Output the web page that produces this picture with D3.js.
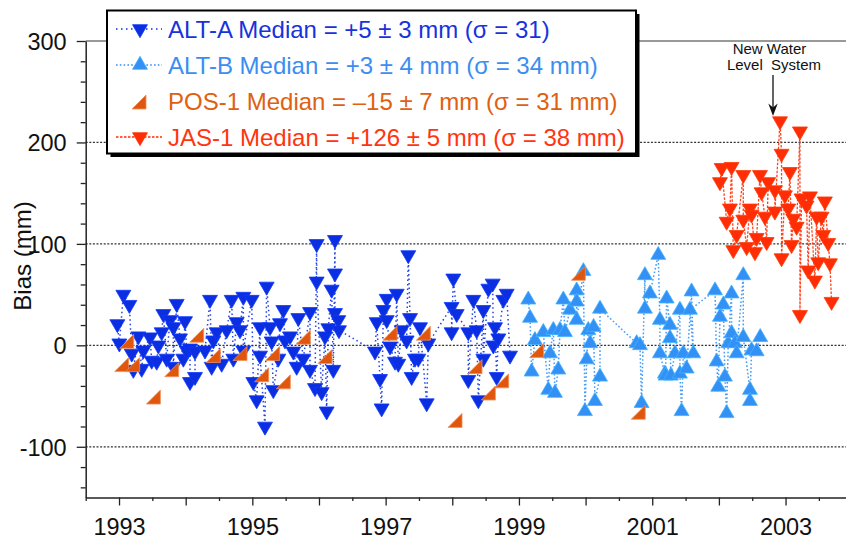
<!DOCTYPE html>
<html><head><meta charset="utf-8">
<script src="https://cdn.jsdelivr.net/npm/d3@7"></script>
<style>
html,body{margin:0;padding:0;background:#fff;}
svg{display:block;font-family:"Liberation Sans",Arial,Helvetica,sans-serif;}
</style></head>
<body><svg id="chart" width="846" height="540"></svg>
<script>
// ---- data: [decimal year, bias mm] ----
const altA = [
[1992.975,21],[1993.005,2],[1993.065,50],[1993.155,40],[1993.19,-8],[1993.215,-24],[1993.29,9],[1993.34,-23],
[1993.365,-5],[1993.465,8],[1993.49,-15],[1993.565,-16],[1993.59,0],[1993.64,13],[1993.665,31],[1993.715,-13],
[1993.765,25],[1993.815,18],[1993.815,-21],[1993.865,41],[1993.915,7],[1993.965,-13],[1993.99,24],[1994.015,-5],
[1994.065,-3],[1994.065,-36],[1994.14,-31],[1994.14,-6],[1994.29,-5],[1994.365,45],[1994.39,-21],[1994.415,5],
[1994.465,13],[1994.54,-18],[1994.615,15],[1994.69,45],[1994.715,-13],[1994.765,23],[1994.815,15],[1994.865,48],
[1994.865,-5],[1994.99,45],[1995.015,-36],[1995.065,-54],[1995.115,18],[1995.115,-10],[1995.19,-80],[1995.215,58],
[1995.265,18],[1995.29,4],[1995.315,-44],[1995.39,-13],[1995.415,22],[1995.465,35],[1995.49,5],[1995.565,9],
[1995.615,-6],[1995.665,-21],[1995.69,27],[1995.765,-13],[1995.865,33],[1995.865,-24],[1995.94,-42],[1995.965,100],
[1995.965,63],[1996.04,-46],[1996.09,9],[1996.115,-65],[1996.14,17],[1996.19,55],[1996.215,-24],[1996.24,104],
[1996.24,71],[1996.24,32],[1996.29,25],[1996.3,15],
[1996.84,-6],[1996.866,23],[1996.916,-33],[1996.94,-62],[1996.966,35],[1997.016,46],[1997.016,25],[1997.066,-1],
[1997.14,-16],[1997.166,51],[1997.19,-18],[1997.24,15],[1997.315,5],[1997.34,89],[1997.366,27],[1997.39,-31],
[1997.44,-13],[1997.49,-13],[1997.516,18],[1997.616,-57],[1997.64,2],
[1997.99,38],[1997.99,13],[1998.016,66],[1998.066,31],[1998.24,13],[1998.24,-34],[1998.316,45],[1998.366,15],
[1998.391,-54],[1998.466,35],[1998.466,-13],[1998.541,56],[1998.606,61],[1998.616,0],[1998.641,18],[1998.666,-31],
[1998.691,7],[1998.766,45],[1998.816,51],[1998.866,-10]
];
const altB = [
[1999.14,45],[1999.166,27],[1999.19,-26],[1999.24,5],[1999.366,13],[1999.44,-44],[1999.466,-8],[1999.516,15],
[1999.54,-47],[1999.59,-24],[1999.616,15],[1999.666,45],[1999.69,13],[1999.766,35],[1999.866,54],[1999.866,43],
[1999.866,25],[1999.967,73],[1999.99,-65],[2000.017,-14],[2000.04,15],[2000.07,2],[2000.12,18],[2000.14,-55],
[2000.216,-31],[2000.216,36],
[2000.766,2],[2000.816,0],[2000.84,-57],[2000.89,69],[2000.89,36],[2000.966,51],[2001.09,89],[2001.115,25],
[2001.115,-8],[2001.19,-28],[2001.2,-30],[2001.216,46],[2001.266,20],[2001.266,7],[2001.28,-30],[2001.34,-8],
[2001.415,35],[2001.415,-28],[2001.44,-65],[2001.466,-8],[2001.516,-23],[2001.59,53],[2001.616,-8],[2001.566,35],
[2001.942,54],[2001.966,-16],[2001.99,-41],[2002.016,28],[2002.066,40],[2002.09,-31],[2002.116,-67],[2002.14,2],
[2002.19,51],[2002.19,12],[2002.24,2],[2002.266,-8],[2002.366,69],[2002.366,8],[2002.466,-44],[2002.466,-55],
[2002.49,-5],[2002.566,-6],[2002.62,8]
];
const pos1 = [
[1993.04,-19],[1993.115,4],[1993.205,-19],[1993.515,-51],[1993.79,-24],[1994.165,10],[1994.415,-10],[1994.815,-8],
[1995.14,-29],[1995.305,-8],[1995.465,-36],[1995.765,8],[1996.09,-11],[1997.066,12],[1997.566,12],[1998.041,-74],
[1998.341,-21],[1998.541,-47],[1998.741,-35],[1999.266,-5],[1999.891,71],[2000.79,-66]
];
const jas1 = [
[2002.016,161],[2002.042,175],[2002.116,122],[2002.166,135],[2002.19,176],[2002.216,94],[2002.266,109],[2002.366,168],
[2002.366,124],[2002.416,97],[2002.466,135],[2002.49,129],[2002.541,92],[2002.566,106],[2002.616,168],[2002.64,151],
[2002.69,127],[2002.716,102],[2002.74,161],[2002.84,153],[2002.84,132],[2002.917,221],[2002.94,189],[2002.94,86],
[2002.99,148],[2003.04,135],[2003.066,171],[2003.09,99],[2003.116,125],[2003.166,117],[2003.216,211],[2003.216,30],
[2003.24,145],[2003.315,138],[2003.34,74],[2003.366,147],[2003.44,64],[2003.466,127],[2003.49,82],[2003.54,127],
[2003.566,109],[2003.59,142],[2003.64,101],[2003.666,81],[2003.69,43]
];
const legendLabels = [
 "ALT-A Median = +5 ± 3 mm (σ = 31)",
 "ALT-B Median = +3 ± 4 mm (σ = 34 mm)",
 "POS-1 Median = –15 ± 7 mm (σ = 31 mm)",
 "JAS-1 Median = +126 ± 5 mm (σ = 38 mm)"
];
const yMajorTicks = [-100, 0, 100, 200, 300];
const xLabelYears = [1993, 1995, 1997, 1999, 2001, 2003];
const annotationLines = ["New Water", "Level  System"];

// ---- drawing ----
const svg = d3.select("#chart");
const x = d3.scaleLinear().domain([1992.5, 2004]).range([85.7, 852.2]);
const y = d3.scaleLinear().domain([-150, 300]).range([497.5, 41]);
const X0 = 85.7, XR = 846;

// gridlines
svg.append("g").selectAll("line").data(yMajorTicks.filter(d => d !== 300)).join("line")
  .attr("x1", X0).attr("x2", XR).attr("y1", d => y(d)).attr("y2", d => y(d))
  .attr("stroke", "#333").attr("stroke-width", 1.3).attr("stroke-dasharray", "2,1.6");
svg.append("line").attr("x1", X0).attr("x2", XR).attr("y1", y(300)).attr("y2", y(300))
  .attr("stroke", "#777").attr("stroke-width", 1.6);

// axes
const fontSize = 23.5;
const yMinor = d3.range(-140, 300, 20).filter(d => d % 100 !== 0);
svg.append("g").attr("transform", `translate(${X0},0)`)
  .call(d3.axisLeft(y).tickValues(yMinor).tickSize(5).tickFormat("").tickSizeOuter(0))
  .call(g => g.select(".domain").remove())
  .call(g => g.selectAll("line").attr("stroke", "#222").attr("stroke-width", 1.3));
svg.append("g").attr("transform", `translate(${X0},0)`)
  .call(d3.axisLeft(y).tickValues(yMajorTicks).tickSize(9).tickPadding(10).tickSizeOuter(0).tickFormat(d => String(d)))
  .call(g => g.select(".domain").attr("stroke", "#222").attr("stroke-width", 1.5))
  .call(g => g.selectAll("line").attr("stroke", "#222").attr("stroke-width", 1.3))
  .call(g => g.selectAll("text").attr("font-size", fontSize).attr("fill", "#111")
      .attr("font-family", '"Liberation Sans",Arial,sans-serif').attr("dy", "0.36em"));

const xMinor = d3.range(1992.5, 2004.01, 1);
svg.append("g").attr("transform", `translate(0,${y(-150)})`)
  .call(d3.axisBottom(x).tickValues(xMinor).tickSize(3.5).tickFormat("").tickSizeOuter(0))
  .call(g => g.select(".domain").remove())
  .call(g => g.selectAll("line").attr("stroke", "#222").attr("stroke-width", 1.3));
svg.append("g").attr("transform", `translate(0,${y(-150)})`)
  .call(d3.axisBottom(x).tickValues(d3.range(1993, 2004.5, 1)).tickSize(8).tickSizeOuter(0)
     .tickFormat(d => xLabelYears.includes(d) ? String(d) : ""))
  .call(g => g.select(".domain").attr("stroke", "#222").attr("stroke-width", 1.5))
  .call(g => g.selectAll("line").attr("stroke", "#222").attr("stroke-width", 1.3))
  .call(g => g.selectAll("text").attr("font-size", fontSize).attr("fill", "#111")
      .attr("font-family", '"Liberation Sans",Arial,sans-serif').attr("y", 37).attr("dy", 0));

// y label
svg.append("text").attr("transform", "translate(31,256) rotate(-90)")
  .attr("text-anchor", "middle").attr("font-size", 24).attr("fill", "#111").text("Bias (mm)");

// series
const series = [
  {key:"ALT-A", data: altA, color:"#0b2ee0", text:"#1733db", shape:"down", dash:"1.5,3", lw:1.5},
  {key:"ALT-B", data: altB, color:"#3390f5", text:"#3a8ef2", shape:"up", dash:"1.6,2.2", lw:1.5},
  {key:"POS-1", data: pos1, color:"#e0560d", text:"#e0600f", shape:"right", dash:null, lw:0},
  {key:"JAS-1", data: jas1, color:"#ff2d05", text:"#ff3510", shape:"down", dash:"2.5,1.5", lw:1.3}
];
const triPath = d3.symbol(d3.symbolTriangle, 97)();
function shapeAttrs(sel, shape){
  if (shape === "right") sel.attr("d", "M-7,7L7,7L7,-7Z");
  else sel.attr("d", triPath);
}
const line = d3.line().x(d => x(d[0])).y(d => y(d[1]));
series.forEach(s => {
  const g = svg.append("g");
  if (s.dash) g.append("path").datum(s.data).attr("d", line).attr("fill", "none")
      .attr("stroke", s.color).attr("stroke-width", s.lw).attr("stroke-dasharray", s.dash).attr("opacity", 0.9);
  g.selectAll("path.m").data(s.data).join("path").attr("class", "m")
    .call(shapeAttrs, s.shape)
    .attr("transform", d => `translate(${x(d[0])},${y(d[1])})` + (s.shape === "down" ? " rotate(180)" : ""))
    .attr("fill", s.color)
    .attr("stroke", s.shape === "right" ? "#f0915a" : d3.color(s.color).brighter(0.6))
    .attr("stroke-width", 0.8);
});

// annotation
const ann = svg.append("g").attr("fill", "#111").attr("font-size", 15).attr("text-anchor", "middle");
ann.append("text").attr("x", 769.5).attr("y", 54).text(annotationLines[0]);
ann.append("text").attr("x", 774).attr("y", 69.5).attr("xml:space", "preserve").text(annotationLines[1]);
svg.append("line").attr("x1", 773).attr("x2", 773).attr("y1", 75).attr("y2", 110)
  .attr("stroke", "#111").attr("stroke-width", 1.3);
svg.append("path").attr("d", "M773,116L768.3,103.5L773,107.5L777.7,103.5Z").attr("fill", "#111");

// legend
const lg = svg.append("g");
const bx = 107, by = 10.5, bw = 529, bh = 143;
lg.append("rect").attr("x", bx + 3.5).attr("y", by + 3.5).attr("width", bw).attr("height", bh).attr("fill", "#000");
lg.append("rect").attr("x", bx).attr("y", by).attr("width", bw).attr("height", bh)
  .attr("fill", "#fff").attr("stroke", "#000").attr("stroke-width", 2);
series.forEach((s, i) => {
  const cy = 29 + 36 * i;
  if (s.dash) lg.append("line").attr("x1", 116).attr("x2", 162).attr("y1", cy).attr("y2", cy)
      .attr("stroke", s.color).attr("stroke-width", 1.5).attr("stroke-dasharray", s.key === "ALT-A" ? "1.5,3.5" : s.dash);
  lg.append("path").call(shapeAttrs, s.shape)
    .attr("transform", `translate(${s.shape === "right" ? 139 : 140},${s.shape === "right" ? cy + 1 : cy})` + (s.shape === "down" ? " rotate(180)" : ""))
    .attr("fill", s.color).attr("stroke", s.shape === "right" ? "#f0915a" : d3.color(s.color).brighter(0.6)).attr("stroke-width", 0.8);
  lg.append("text").attr("x", 168).attr("y", 37.5 + 36 * i).attr("font-size", 24)
    .attr("fill", s.text).text(legendLabels[i]);
});
</script>
</body></html>
